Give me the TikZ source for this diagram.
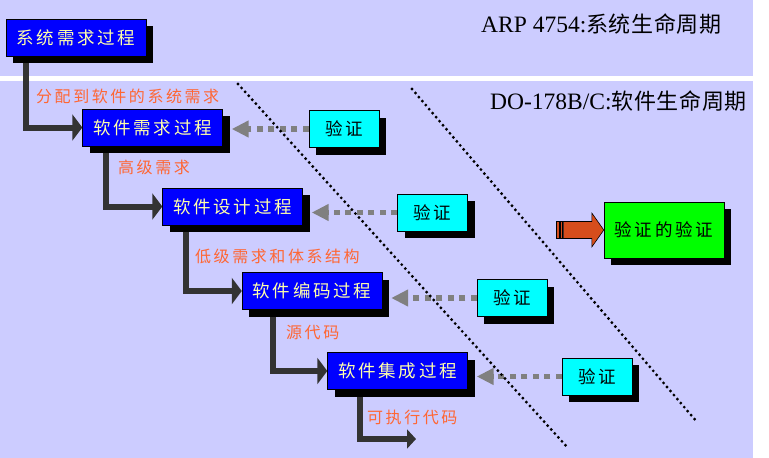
\documentclass[tikz,border=0pt]{standalone}
\usepackage{fontspec}
\setmainfont{Liberation Serif}
\newfontfamily\cjk[LetterSpace=3]{Noto Sans CJK SC}
\newfontfamily\cjkwide[LetterSpace=16]{Noto Sans CJK SC}
\usetikzlibrary{shadows,arrows.meta,calc}

\definecolor{band}{RGB}{204,204,255}
\definecolor{boxtext}{RGB}{255,255,170}
\definecolor{flowlabel}{RGB}{255,102,51}
\definecolor{vvorange}{RGB}{214,77,28}
\definecolor{procblue}{RGB}{0,0,255}
\definecolor{verifycyan}{RGB}{0,255,255}
\definecolor{vvgreen}{RGB}{0,255,0}

\pgfdeclarelayer{back}
\pgfdeclarelayer{lines}
\pgfsetlayers{back,lines,main}

\tikzstyle{process} = [draw=black, fill=procblue, text=boxtext, minimum width=140pt, minimum height=37pt, inner sep=0pt, font=\fontsize{17.5}{18}\cjkwide, drop shadow={shadow xshift=7pt, shadow yshift=-7pt, opacity=1, fill=black}]
\tikzstyle{verify} = [process, fill=verifycyan, text=black, minimum width=70pt]
\tikzstyle{vv} = [process, fill=vvgreen, text=black, minimum width=120pt, minimum height=56pt]
\tikzstyle{flow} = [draw=black!80, line width=6pt, line join=miter, -{Triangle[length=10pt,width=26pt]}]
\tikzstyle{check} = [draw=gray, line width=5.5pt, dash pattern=on 6pt off 5.5pt, -{Triangle[length=17pt,width=16pt]}]
\tikzstyle{flowtext} = [text=flowlabel, anchor=west, inner sep=0pt, font=\fontsize{16}{16}\cjkwide]
\tikzstyle{divider} = [line width=3.2pt, dash pattern=on 0pt off 5.3pt, line cap=round]

\begin{document}
\begin{tikzpicture}[x=1pt, y=-1pt]
\useasboundingbox (0,0) rectangle (769,458);

% Bands
\begin{pgfonlayer}{back}
\fill [band] (0,0) rectangle (753,76);
\fill [band] (0,81) rectangle (753,458);
\end{pgfonlayer}

% Titles
\node (arp) [anchor=base west, inner sep=0pt] at (481,32) {\fontsize{23.5}{24}\selectfont ARP 4754:{\cjk\fontsize{22}{24}\selectfont 系统生命周期}};
\node (do178) [anchor=base west, inner sep=0pt] at (490,109) {\fontsize{23.5}{24}\selectfont DO-178B/C:{\cjk\fontsize{22}{24}\selectfont 软件生命周期}};

% Borders
\draw [divider] (238,84) -- (568,448);
\draw [divider] (412,89) -- (697,422);

% Processes
\node (process1) [process] at (76,37.5) {系统需求过程};
\node (process2) [process] at (152.5,127.5) {软件需求过程};
\node (process3) [process] at (232.5,206.5) {软件设计过程};
\node (process4) [process] at (312,291) {软件编码过程};
\node (process5) [process] at (397.5,371) {软件集成过程};
\coordinate (out5) at (416,439);

% Verification
\node (verify2) [verify] at (344,129) {验证};
\node (verify3) [verify] at (432.5,212.5) {验证};
\node (verify4) [verify] at (512,298) {验证};
\node (verify5) [verify] at (597,376.5) {验证};
\node (vv) [vv] at (664,230) {验证的验证};

% Outputs
\node (text1) [flowtext] at (36,96) {分配到软件的系统需求};
\node (text2) [flowtext] at (118,167) {高级需求};
\node (text3) [flowtext] at (195,256) {低级需求和体系结构};
\node (text4) [flowtext] at (286,333) {源代码};
\node (text5) [flowtext] at (367,417) {可执行代码};

% Arrows
\begin{pgfonlayer}{lines}
\draw [flow] ([xshift=20pt]process1.south west) |- (process2.west);
\draw [flow] ([xshift=24pt]process2.south west) |- (process3.west);
\draw [flow] ([xshift=24pt]process3.south west) |- (process4.west);
\draw [flow] ([xshift=31pt]process4.south west) |- (process5.west);
\draw [flow, -{Triangle[length=9pt,width=19pt]}] ([xshift=33pt]process5.south west) |- (out5);
\draw [check] (verify2.west) -- ($(verify2.west -| process2.east)+(9,0)$);
\draw [check] (verify3.west) -- ($(verify3.west -| process3.east)+(9,0)$);
\draw [check] (verify4.west) -- ($(verify4.west -| process4.east)+(9,0)$);
\draw [check] (verify5.west) -- ($(verify5.west -| process5.east)+(9,0)$);
\end{pgfonlayer}
\filldraw [fill=vvorange, draw=black, line width=0.6pt] (vv.west) -- ++(-12,-17) -- ++(0,8.5) -- ++(-28.5,0) -- ++(0,17) -- ++(28.5,0) -- ++(0,8.5) -- cycle;
\filldraw [fill=vvorange, draw=black, line width=0.6pt] ($(vv.west)+(-48,-8.5)$) rectangle ++(3,17);
\filldraw [fill=vvorange, draw=black, line width=0.6pt] ($(vv.west)+(-43.5,-8.5)$) rectangle ++(2,17);

\end{tikzpicture}
\end{document}
